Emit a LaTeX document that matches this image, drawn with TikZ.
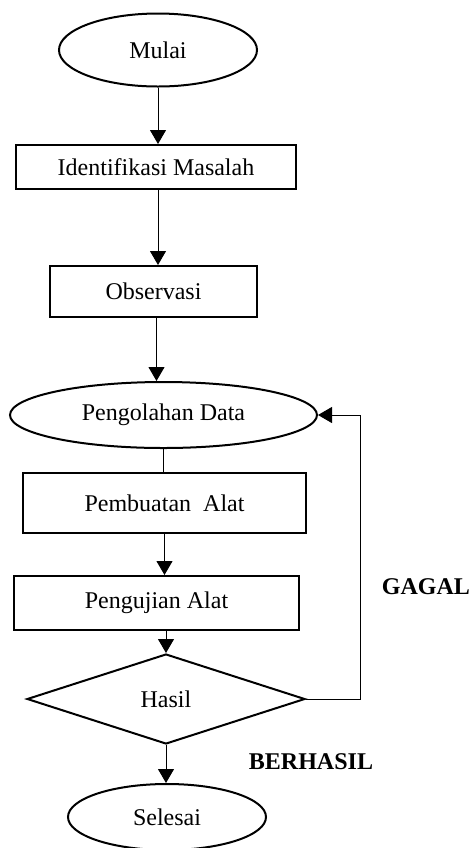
\documentclass[tikz,border=0pt]{standalone}
\usepackage{fontspec}
\setmainfont{Liberation Serif}
\usetikzlibrary{positioning, arrows.meta, shapes.geometric}

\begin{document}
\begin{tikzpicture}[
    x=0.5pt, y=-0.5pt,
    every node/.style={font=\fontsize{12}{14}\selectfont},
    term/.style={draw, line width=1pt, ellipse, inner sep=0pt},
    proc/.style={draw, line width=1pt, inner sep=0pt},
    decide/.style={draw, line width=1pt, diamond, aspect=3, inner sep=0pt},
    flow/.style={line width=0.5pt, -{Triangle[length=7pt,width=8pt]}},
    tag/.style={font=\fontsize{12}{14}\selectfont\bfseries},
  ]
  \useasboundingbox (0,0) rectangle (470,848);

  \node[term, minimum width=99pt, minimum height=36.5pt] (mulai) at (158,50) {Mulai};
  \node[proc, minimum width=140pt, minimum height=22pt] (ident) at (156,167) {\raisebox{-2.5pt}{Identifikasi Masalah}};
  \node[proc, minimum width=103.5pt, minimum height=25.5pt] (obs) at (153.5,291.5) {Observasi};
  \node[term, minimum width=153.5pt, minimum height=33pt] (olah) at (163.5,415) {Pengolahan Data};
  \node[proc, minimum width=141.5pt, minimum height=30pt] (buat) at (164.5,503) {Pembuatan\ \ Alat};
  \node[proc, minimum width=142.5pt, minimum height=27pt] (uji) at (156.5,603) {Pengujian Alat};
  \node[decide, minimum width=139pt, minimum height=45pt] (hasil) at (166,699) {Hasil};
  \node[term, minimum width=99pt, minimum height=33pt] (selesai) at (167,817) {Selesai};

  \node[tag] (gagal) at (426,587) {GAGAL};
  \node[tag] (berhasil) at (311,762) {BERHASIL};

  \draw[flow] (mulai.south) -- (mulai.south |- ident.north);
  \draw[flow] ([xshift=1pt]ident.south) -- ([xshift=1pt]ident.south |- obs.north);
  \draw[flow] ([xshift=1.5pt]obs.south) -- ([xshift=1.5pt]obs.south |- olah.north);
  \draw[line width=0.5pt] (olah.south) -- (olah.south |- buat.north);
  \draw[flow] (buat.south) -- (buat.south |- uji.north);
  \draw[flow] (hasil.north |- uji.south) -- (hasil.north);
  \draw[flow] (hasil.south) -- (hasil.south |- selesai.north);
  \draw[flow] (hasil.east) -- ++(54,0) |- (olah.east);
\end{tikzpicture}
\end{document}
